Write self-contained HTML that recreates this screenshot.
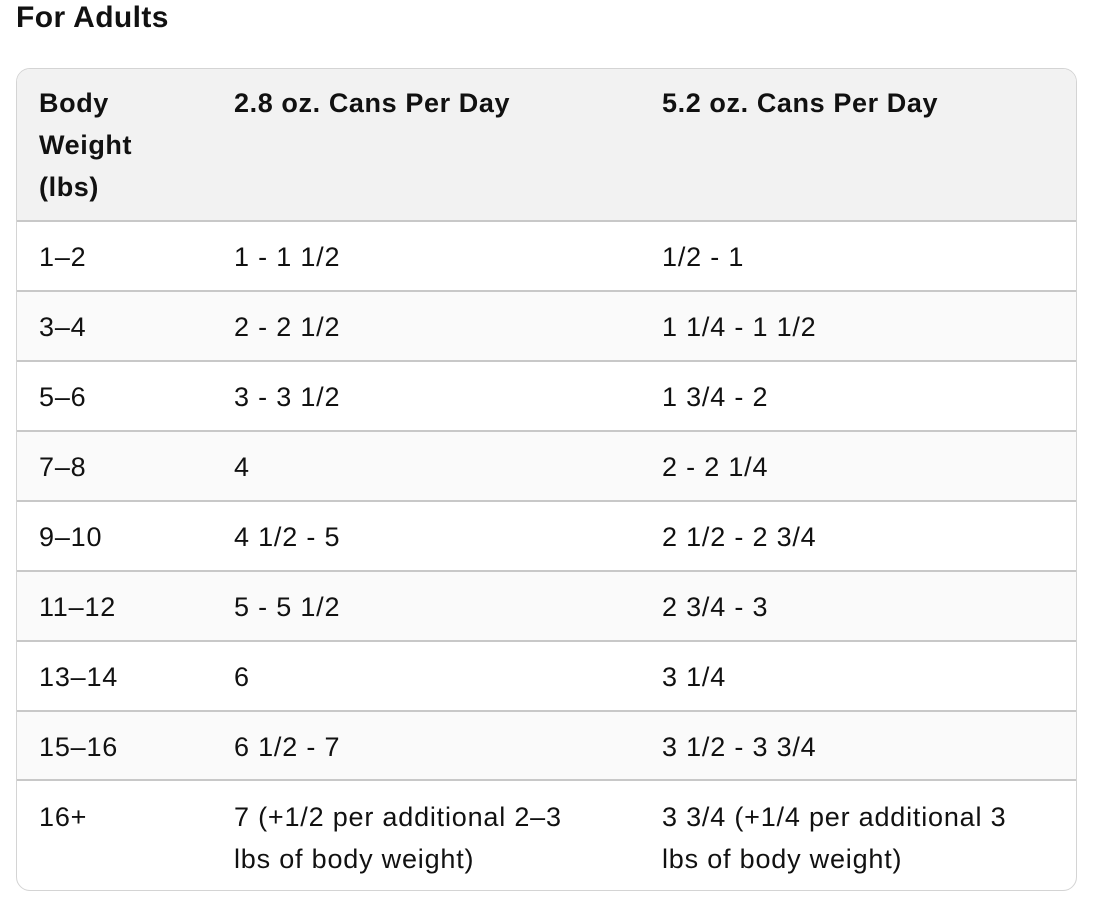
<!DOCTYPE html>
<html><head><meta charset="utf-8"><style>
body{margin:0;width:1114px;height:918px;background:#fff;font-family:"Liberation Sans",sans-serif;color:#111;position:relative;overflow:hidden}
.t{position:absolute;left:16px;top:0;font-weight:bold;font-size:30px;line-height:36px;letter-spacing:0.4px}
.tbl{position:absolute;left:16px;top:68px;width:1059px;height:821px;border:1px solid #d4d4d4;border-radius:14px;overflow:hidden}
.hd{position:absolute;left:0;top:0;width:100%;height:151px;background:#f2f2f2;border-bottom:2px solid #c8c8c8}
.r{position:absolute;left:0;width:100%;border-bottom:2px solid #c8c8c8}
.c{position:absolute;font-size:27px;line-height:42px;letter-spacing:0.8px}
.b{font-weight:bold;letter-spacing:0.6px}
</style></head><body>
<div class="t">For Adults</div>
<div class="tbl">
<div class="hd">
<div class="c b" style="left:22px;top:13px">Body<br>Weight<br>(lbs)</div>
<div class="c b" style="left:217px;top:13px">2.8 oz. Cans Per Day</div>
<div class="c b" style="left:645px;top:13px">5.2 oz. Cans Per Day</div>
</div>
<div class="r" style="top:153px;height:68px"><div class="c" style="left:22px;top:14px">1–2</div><div class="c" style="left:217px;top:14px">1 - 1 1/2</div><div class="c" style="left:645px;top:14px">1/2 - 1</div></div>
<div class="r" style="top:223px;height:68px;background:#fafafa"><div class="c" style="left:22px;top:14px">3–4</div><div class="c" style="left:217px;top:14px">2 - 2 1/2</div><div class="c" style="left:645px;top:14px">1 1/4 - 1 1/2</div></div>
<div class="r" style="top:293px;height:68px"><div class="c" style="left:22px;top:14px">5–6</div><div class="c" style="left:217px;top:14px">3 - 3 1/2</div><div class="c" style="left:645px;top:14px">1 3/4 - 2</div></div>
<div class="r" style="top:363px;height:68px;background:#fafafa"><div class="c" style="left:22px;top:14px">7–8</div><div class="c" style="left:217px;top:14px">4</div><div class="c" style="left:645px;top:14px">2 - 2 1/4</div></div>
<div class="r" style="top:433px;height:68px"><div class="c" style="left:22px;top:14px">9–10</div><div class="c" style="left:217px;top:14px">4 1/2 - 5</div><div class="c" style="left:645px;top:14px">2 1/2 - 2 3/4</div></div>
<div class="r" style="top:503px;height:68px;background:#fafafa"><div class="c" style="left:22px;top:14px">11–12</div><div class="c" style="left:217px;top:14px">5 - 5 1/2</div><div class="c" style="left:645px;top:14px">2 3/4 - 3</div></div>
<div class="r" style="top:573px;height:68px"><div class="c" style="left:22px;top:14px">13–14</div><div class="c" style="left:217px;top:14px">6</div><div class="c" style="left:645px;top:14px">3 1/4</div></div>
<div class="r" style="top:643px;height:67px;background:#fafafa"><div class="c" style="left:22px;top:14px">15–16</div><div class="c" style="left:217px;top:14px">6 1/2 - 7</div><div class="c" style="left:645px;top:14px">3 1/2 - 3 3/4</div></div>
<div class="r" style="top:712px;height:110px;border:none"><div class="c" style="left:22px;top:15px">16+</div><div class="c" style="left:217px;top:15px">7 (+1/2 per additional 2–3<br>lbs of body weight)</div><div class="c" style="left:645px;top:15px">3 3/4 (+1/4 per additional 3<br>lbs of body weight)</div></div>
</div>
</body></html>
